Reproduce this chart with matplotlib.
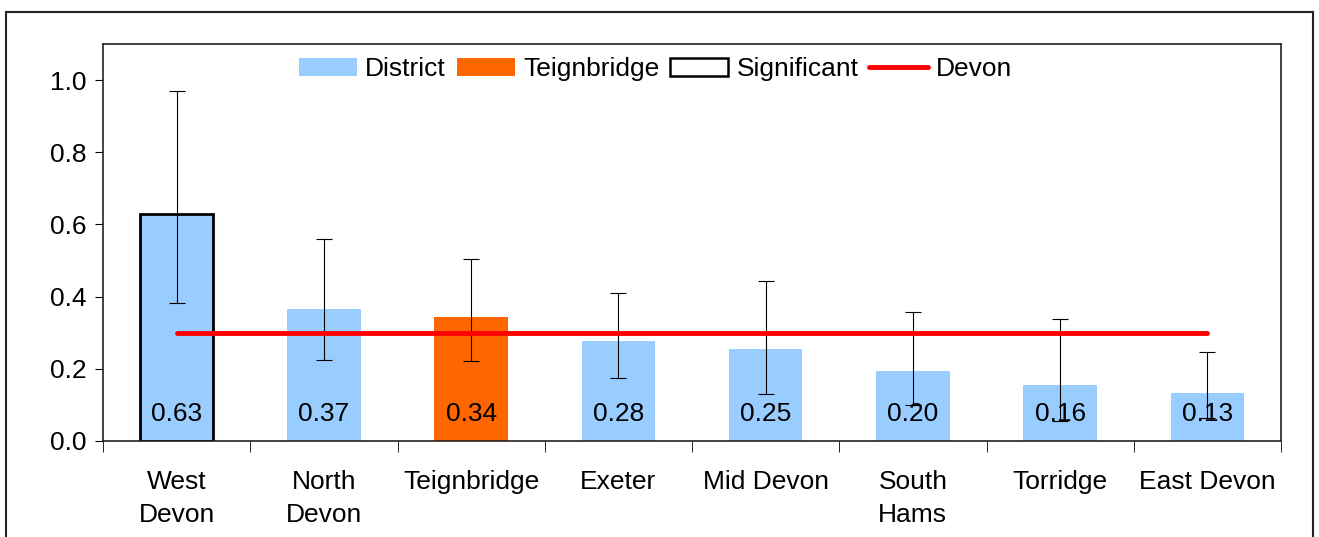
import numpy as np
import matplotlib
matplotlib.use("Agg")
import matplotlib.pyplot as plt
from matplotlib.patches import Patch, Rectangle
from matplotlib.lines import Line2D

plt.rcParams['font.family'] = ['Liberation Sans', 'DejaVu Sans']

# data
districts = ["West\nDevon", "North\nDevon", "Teignbridge", "Exeter", "Mid Devon",
             "South\nHams", "Torridge", "East Devon"]
rates = [0.63, 0.367, 0.344, 0.276, 0.256, 0.195, 0.156, 0.133]
labels = ["0.63", "0.37", "0.34", "0.28", "0.25", "0.20", "0.16", "0.13"]
ci_low = [0.383, 0.225, 0.222, 0.175, 0.131, 0.10, 0.056, 0.064]
ci_high = [0.969, 0.561, 0.503, 0.411, 0.444, 0.358, 0.339, 0.247]
devon_rate = 0.30
highlight = "Teignbridge"
significant = ["West\nDevon"]

blue = "#99CCFF"
orange = "#FF6600"
fs = 19

fig = plt.figure(figsize=(13.19, 5.37), dpi=100)
ax = fig.add_axes([103/1319, 1 - 441/537, (1281-103)/1319, (441-44)/537])

x = np.arange(len(districts))
colors = [orange if d == highlight else blue for d in districts]
bars = ax.bar(x, rates, width=0.5, color=colors, zorder=2)
for b, d in zip(bars, districts):
    if d in significant:
        b.set_edgecolor("black")
        b.set_linewidth(2)

yerr = [np.array(rates) - np.array(ci_low), np.array(ci_high) - np.array(rates)]
ax.errorbar(x, rates, yerr=yerr, fmt="none", ecolor="black", elinewidth=0.8,
            capsize=6, capthick=0.8, zorder=3)

ax.plot([x[0], x[-1]], [devon_rate, devon_rate], color="red", lw=3.5,
        solid_capstyle="round", zorder=4)

for xi, lab in zip(x, labels):
    ax.text(xi, 0.075, lab, ha="center", va="center", fontsize=fs, zorder=5)

ax.set_xlim(-0.5, len(districts) - 0.5)
ax.set_ylim(0, 1.1)
ax.set_yticks(np.arange(0, 1.01, 0.2))
ax.set_yticklabels([f"{v:.1f}" for v in np.arange(0, 1.01, 0.2)], fontsize=fs)
ax.set_xticks(x)
ax.set_xticklabels(districts, fontsize=fs, linespacing=1.45)
ax.set_xticks(np.arange(-0.5, len(districts)), minor=True)
ax.tick_params(axis="x", which="major", length=0, pad=21)
ax.tick_params(axis="x", which="minor", length=8, direction="out")
ax.tick_params(axis="y", length=6, direction="out", pad=6)
for s in ax.spines.values():
    s.set_linewidth(1.2)
    s.set_color("#222222")

handles = [Patch(facecolor=blue, edgecolor="none", label="District"),
           Patch(facecolor=orange, edgecolor="none", label="Teignbridge"),
           Patch(facecolor="white", edgecolor="black", linewidth=1.8, label="Significant"),
           Line2D([0], [0], color="red", lw=3.5, solid_capstyle="round", label="Devon")]
ax.legend(handles=handles, loc="upper center", bbox_to_anchor=(0.469, 1.0), ncol=4,
          frameon=False, fontsize=fs, handlelength=2.2, handleheight=0.7,
          handletextpad=0.3, columnspacing=0.42, borderaxespad=0.1)

fig.patches.append(Rectangle((6/1319, -0.05), (1313-6)/1319, 1.05 - 12/537,
                             transform=fig.transFigure, fill=False,
                             edgecolor="#222222", linewidth=1.5))

fig.savefig("out.png", dpi=100)
